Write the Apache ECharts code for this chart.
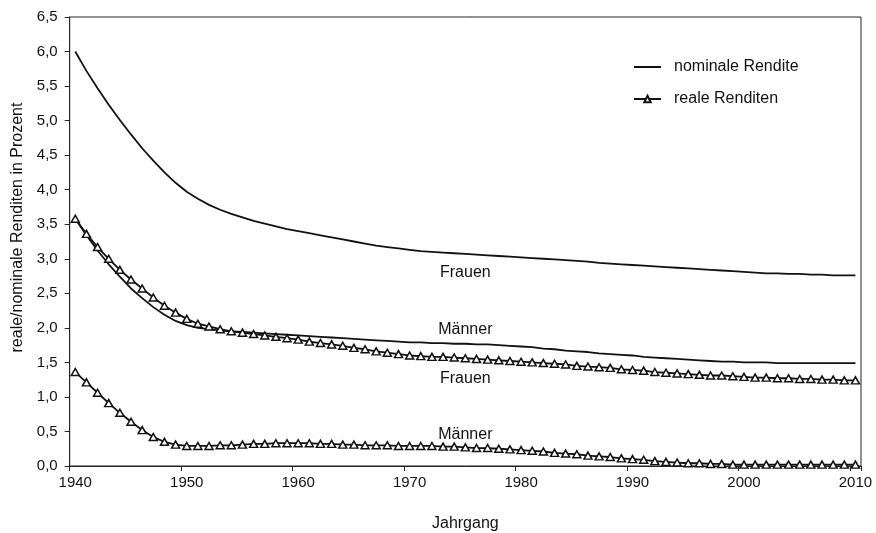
<!DOCTYPE html>
<html>
<head>
<meta charset="utf-8">
<script src="https://cdn.jsdelivr.net/npm/echarts@6/dist/echarts.min.js"></script>
<style>
  html, body { margin: 0; padding: 0; background: #fff; }
  #chart { width: 876px; height: 533px; }
</style>
</head>
<body>
<div id="chart"></div>
<script>
// Jahrgänge 1940 … 2010
const years = [];
for (let y = 1940; y <= 2010; y++) years.push(String(y));

// Nominale Rendite, Frauen
const nominalFrauen = [
  6.00, 5.72, 5.47, 5.23, 5.01, 4.80, 4.60, 4.42, 4.25, 4.10,
  3.97, 3.87, 3.78, 3.71, 3.65, 3.60, 3.55, 3.51, 3.47, 3.43,
  3.40, 3.37, 3.34, 3.31, 3.28, 3.25, 3.22, 3.19, 3.17, 3.15,
  3.13, 3.11, 3.10, 3.09, 3.08, 3.07, 3.06, 3.05, 3.04, 3.03,
  3.02, 3.01, 3.00, 2.99, 2.98, 2.97, 2.96, 2.94, 2.93, 2.92,
  2.91, 2.90, 2.89, 2.88, 2.87, 2.86, 2.85, 2.84, 2.83, 2.82,
  2.81, 2.80, 2.79, 2.79, 2.78, 2.78, 2.77, 2.77, 2.76, 2.76,
  2.76
];

// Nominale Rendite, Männer
const nominalMaenner = [
  3.58, 3.34, 3.12, 2.92, 2.74, 2.57, 2.43, 2.30, 2.19, 2.10,
  2.04, 2.00, 1.98, 1.96, 1.95, 1.94, 1.93, 1.92, 1.91, 1.90,
  1.89, 1.88, 1.87, 1.86, 1.85, 1.84, 1.83, 1.82, 1.81, 1.80,
  1.79, 1.79, 1.78, 1.78, 1.77, 1.77, 1.76, 1.76, 1.75, 1.74,
  1.73, 1.72, 1.70, 1.69, 1.67, 1.66, 1.65, 1.63, 1.62, 1.61,
  1.60, 1.58, 1.57, 1.56, 1.55, 1.54, 1.53, 1.52, 1.51, 1.51,
  1.50, 1.50, 1.50, 1.49, 1.49, 1.49, 1.49, 1.49, 1.49, 1.49,
  1.49
];

// Reale Rendite, Frauen
const realFrauen = [
  3.58, 3.36, 3.17, 3.00, 2.84, 2.70, 2.57, 2.44, 2.32, 2.22,
  2.13, 2.06, 2.02, 1.98, 1.95, 1.93, 1.91, 1.89, 1.87, 1.85,
  1.83, 1.80, 1.78, 1.76, 1.74, 1.71, 1.69, 1.66, 1.64, 1.62,
  1.60, 1.59, 1.58, 1.58, 1.57, 1.56, 1.55, 1.54, 1.53, 1.52,
  1.51, 1.50, 1.49, 1.48, 1.47, 1.45, 1.44, 1.43, 1.42, 1.40,
  1.39, 1.38, 1.36, 1.35, 1.34, 1.33, 1.32, 1.31, 1.31, 1.30,
  1.29, 1.28, 1.28, 1.27, 1.27, 1.26, 1.26, 1.25, 1.25, 1.24,
  1.24
];

// Reale Rendite, Männer
const realMaenner = [
  1.36, 1.21, 1.06, 0.91, 0.77, 0.64, 0.52, 0.42, 0.35, 0.31,
  0.29, 0.29, 0.29, 0.30, 0.30, 0.31, 0.32, 0.32, 0.33, 0.33,
  0.33, 0.33, 0.32, 0.32, 0.31, 0.31, 0.30, 0.30, 0.30, 0.29,
  0.29, 0.29, 0.29, 0.28, 0.28, 0.27, 0.26, 0.26, 0.25, 0.24,
  0.23, 0.22, 0.21, 0.19, 0.18, 0.17, 0.15, 0.14, 0.13, 0.11,
  0.10, 0.09, 0.07, 0.06, 0.05, 0.04, 0.04, 0.03, 0.03, 0.02,
  0.02, 0.02, 0.02, 0.02, 0.02, 0.02, 0.02, 0.02, 0.02, 0.02,
  0.02
];

// Beschriftungen an den Kurven: [Text, Jahrgang, Wert]
const curveLabels = [
  ['Frauen', '1975', 2.80],
  ['Männer', '1975', 1.98],
  ['Frauen', '1975', 1.26],
  ['Männer', '1975', 0.46]
];

const FONT = 'Liberation Sans, Arial, sans-serif';
const INK = '#111111';

const chart = echarts.init(document.getElementById('chart'), null, { renderer: 'canvas' });

function nominalSeries(data) {
  return {
    name: 'nominale Rendite',
    type: 'line',
    data: data,
    showSymbol: false,
    symbol: 'none',
    lineStyle: { color: INK, width: 1.8 },
    itemStyle: { color: INK },
    emphasis: { disabled: true },
    z: 2
  };
}

function realSeries(data) {
  return {
    name: 'reale Renditen',
    type: 'line',
    data: data,
    symbol: 'triangle',
    symbolSize: [8, 7],
    showAllSymbol: true,
    lineStyle: { color: INK, width: 1.8 },
    itemStyle: { color: '#ffffff', borderColor: INK, borderWidth: 1.5 },
    emphasis: { disabled: true },
    z: 3
  };
}

chart.setOption({
  animation: false,
  backgroundColor: '#ffffff',
  textStyle: { fontFamily: FONT, color: INK },
  grid: {
    left: 69.7, right: 15, top: 17, bottom: 67,
    containLabel: false,
    outerBoundsMode: 'none',
    show: true, borderColor: '#222', borderWidth: 1
  },
  legend: {
    orient: 'vertical',
    left: 633, top: 59,
    padding: 0,
    itemWidth: 27, itemHeight: 8, itemGap: 16,
    selectedMode: false,
    textStyle: { fontFamily: FONT, fontSize: 16, color: INK, padding: [0, 0, 0, 8] },
    data: [
      { name: 'nominale Rendite', itemStyle: { opacity: 0 } },
      { name: 'reale Renditen' }
    ]
  },
  xAxis: {
    type: 'category',
    data: years,
    boundaryGap: true,
    name: 'Jahrgang',
    nameLocation: 'middle',
    nameGap: 50,
    nameTextStyle: { fontFamily: FONT, fontSize: 16, color: INK },
    axisLine: { lineStyle: { color: '#222', width: 1 } },
    axisTick: { show: true, interval: 9, length: 5, inside: false, lineStyle: { color: '#222' } },
    axisLabel: { interval: 9, margin: 9, fontFamily: FONT, fontSize: 15, color: INK },
    splitLine: { show: false }
  },
  yAxis: {
    type: 'value',
    min: 0, max: 6.5, interval: 0.5,
    name: 'reale/nominale Renditen in Prozent',
    nameLocation: 'middle',
    nameGap: 41,
    nameTextStyle: { fontFamily: FONT, fontSize: 16, color: INK, padding: [0, 0, 0, 28] },
    axisLine: { show: true, lineStyle: { color: '#222', width: 1 } },
    axisTick: { show: true, length: 5, inside: false, lineStyle: { color: '#222' } },
    axisLabel: {
      margin: 12, fontFamily: FONT, fontSize: 15, color: INK,
      formatter: v => v.toFixed(1).replace('.', ',')
    },
    splitLine: { show: false }
  },
  series: [
    nominalSeries(nominalFrauen),
    nominalSeries(nominalMaenner),
    realSeries(realFrauen),
    realSeries(realMaenner)
  ]
});

// Kurvenbeschriftungen über die Achsenskalen positionieren
chart.setOption({
  graphic: curveLabels.map(([text, year, value]) => {
    const [px, py] = chart.convertToPixel({ gridIndex: 0 }, [year, value]);
    return {
      type: 'text',
      x: px, y: py,
      style: {
        text: text,
        font: '16px ' + FONT,
        fill: INK,
        textAlign: 'center',
        textVerticalAlign: 'middle'
      },
      z: 10
    };
  })
});
</script>
</body>
</html>
